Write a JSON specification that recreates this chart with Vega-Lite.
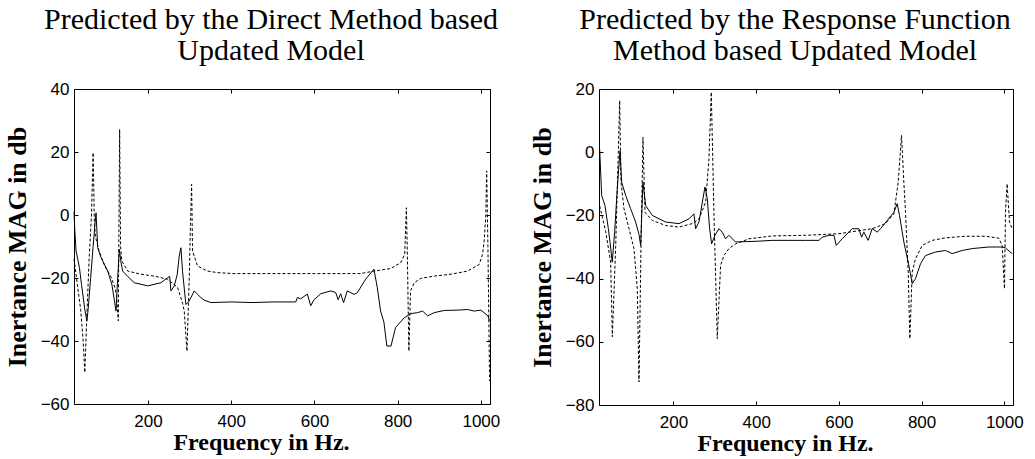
{
  "$schema": "https://vega.github.io/schema/vega-lite/v6.json",
  "padding": {"left": 3, "top": 4, "right": 0, "bottom": 0},
  "background": "white",
  "spacing": 27,
  "config": {
    "view": {"stroke": "black", "strokeWidth": 1},
    "axis": {"domain": false, "grid": false, "ticks": true, "tickColor": "black", "tickSize": -4, "labelFont": "Liberation Sans", "labelFontSize": 17, "labelColor": "black", "titleFont": "Liberation Serif", "titleFontWeight": "bold", "titleColor": "black"},
    "axisX": {"labelPadding": 13, "labelFontSize": 17, "titleFontSize": 24, "titlePadding": 1, "format": "d"},
    "axisY": {"labelPadding": 9, "labelFontSize": 17, "titleFontSize": 26, "titlePadding": 10},
    "title": {"font": "Liberation Serif", "fontSize": 30, "fontWeight": "normal", "color": "black", "lineHeight": 31, "offset": 14, "dx": -11, "frame": "group", "anchor": "middle"}
  },
  "datasets": {
    "left_solid": [
      {"hz": 22, "db": 1}, {"hz": 24, "db": -5}, {"hz": 27, "db": -11.4}, {"hz": 31, "db": -14}, {"hz": 35, "db": -16.7}, {"hz": 40, "db": -22}, {"hz": 48, "db": -30}, {"hz": 53, "db": -33.6}, {"hz": 56, "db": -30}, {"hz": 62, "db": -20}, {"hz": 68, "db": -10}, {"hz": 73, "db": -2}, {"hz": 75, "db": 0.7}, {"hz": 77, "db": -5}, {"hz": 79, "db": -10.4}, {"hz": 87, "db": -13.5}, {"hz": 103, "db": -17.8}, {"hz": 113, "db": -22}, {"hz": 119, "db": -27}, {"hz": 123, "db": -30.5}, {"hz": 127, "db": -20}, {"hz": 131, "db": -10.9}, {"hz": 135, "db": -15}, {"hz": 139, "db": -17.8}, {"hz": 151, "db": -19.5}, {"hz": 167, "db": -21.5}, {"hz": 199, "db": -22.5}, {"hz": 231, "db": -21.5}, {"hz": 247, "db": -19.9}, {"hz": 252, "db": -19.5}, {"hz": 255, "db": -24.1}, {"hz": 263, "db": -22.5}, {"hz": 270, "db": -19}, {"hz": 275, "db": -13}, {"hz": 279, "db": -10.4}, {"hz": 283, "db": -18}, {"hz": 291, "db": -28.4}, {"hz": 299, "db": -27.3}, {"hz": 311, "db": -24.1}, {"hz": 319, "db": -25.2}, {"hz": 327, "db": -26.2}, {"hz": 335, "db": -27}, {"hz": 351, "db": -27.8}, {"hz": 400, "db": -27.6}, {"hz": 450, "db": -27.8}, {"hz": 500, "db": -27.6}, {"hz": 555, "db": -27.6}, {"hz": 559, "db": -26.2}, {"hz": 567, "db": -26.6}, {"hz": 583, "db": -25.1}, {"hz": 591, "db": -28.8}, {"hz": 599, "db": -26.9}, {"hz": 615, "db": -25}, {"hz": 639, "db": -24.1}, {"hz": 651, "db": -24.6}, {"hz": 657, "db": -26.9}, {"hz": 663, "db": -25}, {"hz": 670, "db": -27.8}, {"hz": 679, "db": -24.1}, {"hz": 695, "db": -25.2}, {"hz": 703, "db": -24.7}, {"hz": 723, "db": -20.4}, {"hz": 743, "db": -17.2}, {"hz": 751, "db": -23}, {"hz": 759, "db": -30.5}, {"hz": 767, "db": -34}, {"hz": 774, "db": -41.6}, {"hz": 784, "db": -41.6}, {"hz": 795, "db": -35.7}, {"hz": 816, "db": -32.6}, {"hz": 832, "db": -31.3}, {"hz": 848, "db": -31}, {"hz": 860, "db": -30.5}, {"hz": 872, "db": -32}, {"hz": 888, "db": -31}, {"hz": 912, "db": -30.3}, {"hz": 944, "db": -30.2}, {"hz": 968, "db": -30}, {"hz": 984, "db": -30.5}, {"hz": 1000, "db": -30.2}, {"hz": 1017, "db": -32}, {"hz": 1021, "db": -33.6}
    ],
    "left_dashed": [
      {"hz": 22, "db": -14}, {"hz": 30, "db": -22}, {"hz": 38, "db": -30}, {"hz": 44, "db": -40}, {"hz": 48, "db": -50}, {"hz": 52, "db": -35}, {"hz": 58, "db": -15}, {"hz": 64, "db": 0}, {"hz": 68, "db": 19.8}, {"hz": 71, "db": -3}, {"hz": 74, "db": -7.2}, {"hz": 78, "db": -9}, {"hz": 82, "db": -11.4}, {"hz": 96, "db": -16.2}, {"hz": 112, "db": -19.9}, {"hz": 120, "db": -23}, {"hz": 124, "db": -25.2}, {"hz": 128.5, "db": -33.6}, {"hz": 131.7, "db": 27.2}, {"hz": 134, "db": -10}, {"hz": 137, "db": -14.6}, {"hz": 151, "db": -17.8}, {"hz": 183, "db": -18.8}, {"hz": 215, "db": -19.4}, {"hz": 247, "db": -20.4}, {"hz": 271, "db": -23}, {"hz": 283, "db": -28}, {"hz": 287, "db": -30.5}, {"hz": 293.5, "db": -43.2}, {"hz": 299, "db": -20}, {"hz": 302, "db": -3}, {"hz": 304.7, "db": 9.7}, {"hz": 307, "db": -11.4}, {"hz": 319, "db": -16.2}, {"hz": 343, "db": -17.8}, {"hz": 367, "db": -18.3}, {"hz": 407, "db": -18.6}, {"hz": 500, "db": -18.6}, {"hz": 600, "db": -18.6}, {"hz": 711, "db": -18.6}, {"hz": 743, "db": -17.8}, {"hz": 783, "db": -17}, {"hz": 807, "db": -15.2}, {"hz": 817, "db": -12.5}, {"hz": 821, "db": 2.3}, {"hz": 823, "db": -10}, {"hz": 827, "db": -43.2}, {"hz": 831, "db": -24.1}, {"hz": 840, "db": -21.5}, {"hz": 856, "db": -20.1}, {"hz": 888, "db": -19.4}, {"hz": 928, "db": -18.8}, {"hz": 968, "db": -17.8}, {"hz": 996, "db": -15.7}, {"hz": 1004, "db": -12.5}, {"hz": 1008, "db": -8.3}, {"hz": 1012, "db": 0.2}, {"hz": 1014, "db": 14}, {"hz": 1017, "db": -10}, {"hz": 1021, "db": -52.7}
    ],
    "right_solid": [
      {"hz": 21.6, "db": 1}, {"hz": 26.4, "db": -13.7}, {"hz": 34.5, "db": -16.9}, {"hz": 42.6, "db": -24.2}, {"hz": 48, "db": -30}, {"hz": 52, "db": -34.8}, {"hz": 58, "db": -25}, {"hz": 64, "db": -12}, {"hz": 70.8, "db": 0.5}, {"hz": 74.8, "db": -9.5}, {"hz": 84.5, "db": -13.7}, {"hz": 96.5, "db": -17.9}, {"hz": 108.6, "db": -22.1}, {"hz": 116.7, "db": -26}, {"hz": 120.7, "db": -29.5}, {"hz": 126.3, "db": -9.5}, {"hz": 132.8, "db": -16.9}, {"hz": 148.9, "db": -20}, {"hz": 181.1, "db": -22.1}, {"hz": 213.4, "db": -22.6}, {"hz": 237.5, "db": -21.1}, {"hz": 249.6, "db": -19.5}, {"hz": 253.6, "db": -24.2}, {"hz": 261.7, "db": -22.1}, {"hz": 276.2, "db": -11}, {"hz": 281.8, "db": -14.7}, {"hz": 287.5, "db": -24.2}, {"hz": 292.3, "db": -29}, {"hz": 300.4, "db": -26.3}, {"hz": 310, "db": -24.2}, {"hz": 318, "db": -25.3}, {"hz": 326, "db": -27.4}, {"hz": 334, "db": -26.3}, {"hz": 350, "db": -28.4}, {"hz": 400, "db": -28.2}, {"hz": 439, "db": -27.9}, {"hz": 519.5, "db": -27.9}, {"hz": 551.7, "db": -27.9}, {"hz": 559.7, "db": -26.9}, {"hz": 575.9, "db": -26.3}, {"hz": 588, "db": -26.3}, {"hz": 593.6, "db": -29.5}, {"hz": 608.1, "db": -27.4}, {"hz": 632.2, "db": -24.2}, {"hz": 648.4, "db": -24.2}, {"hz": 654.8, "db": -26.9}, {"hz": 660.4, "db": -25.3}, {"hz": 670.9, "db": -27.9}, {"hz": 680.6, "db": -24.2}, {"hz": 692.7, "db": -25.3}, {"hz": 700.7, "db": -24.2}, {"hz": 716.8, "db": -21.6}, {"hz": 733, "db": -19}, {"hz": 741, "db": -16.3}, {"hz": 746.6, "db": -20}, {"hz": 757.1, "db": -28.4}, {"hz": 769.2, "db": -35.8}, {"hz": 777.3, "db": -41.6}, {"hz": 785.3, "db": -40}, {"hz": 797.4, "db": -35.3}, {"hz": 809.5, "db": -32.7}, {"hz": 833.6, "db": -31.6}, {"hz": 857.8, "db": -31.1}, {"hz": 873.9, "db": -32.1}, {"hz": 898.1, "db": -31.1}, {"hz": 922.3, "db": -30.5}, {"hz": 962.5, "db": -30}, {"hz": 994.8, "db": -30}, {"hz": 1002.8, "db": -30.3}, {"hz": 1019, "db": -32.1}
    ],
    "right_dashed": [
      {"hz": 21.6, "db": -17}, {"hz": 36.1, "db": -25}, {"hz": 48.2, "db": -34.8}, {"hz": 52.2, "db": -58.4}, {"hz": 60.3, "db": -30}, {"hz": 66.7, "db": 0}, {"hz": 70, "db": 16.3}, {"hz": 73.2, "db": -9.5}, {"hz": 80.4, "db": -17.9}, {"hz": 92.5, "db": -24.2}, {"hz": 104.6, "db": -30.5}, {"hz": 112.6, "db": -43.2}, {"hz": 116.7, "db": -72.7}, {"hz": 121.5, "db": -30}, {"hz": 126.3, "db": 4.7}, {"hz": 131.2, "db": -19}, {"hz": 148.9, "db": -21.6}, {"hz": 181.1, "db": -23.2}, {"hz": 213.4, "db": -23.7}, {"hz": 245.6, "db": -22.6}, {"hz": 261.7, "db": -21.1}, {"hz": 277.8, "db": -15.8}, {"hz": 285.9, "db": -2}, {"hz": 291.5, "db": 19}, {"hz": 298, "db": -20}, {"hz": 306, "db": -59}, {"hz": 314, "db": -35.8}, {"hz": 322.1, "db": -32.7}, {"hz": 334.2, "db": -30.5}, {"hz": 350.3, "db": -29}, {"hz": 382.5, "db": -27.4}, {"hz": 439, "db": -26.5}, {"hz": 519.5, "db": -26.3}, {"hz": 600, "db": -25.8}, {"hz": 680.6, "db": -24.2}, {"hz": 712.8, "db": -22.6}, {"hz": 733, "db": -19.5}, {"hz": 743.4, "db": -9.5}, {"hz": 751.5, "db": 5.3}, {"hz": 757.1, "db": -9.5}, {"hz": 761.1, "db": -19}, {"hz": 767.6, "db": -37.9}, {"hz": 771.6, "db": -59}, {"hz": 777.3, "db": -37.9}, {"hz": 785.3, "db": -33.7}, {"hz": 801.4, "db": -29.5}, {"hz": 825.6, "db": -27.9}, {"hz": 857.8, "db": -27.1}, {"hz": 906.1, "db": -26.6}, {"hz": 954.5, "db": -26.6}, {"hz": 986.7, "db": -27.2}, {"hz": 994.8, "db": -29.5}, {"hz": 1000.4, "db": -43.2}, {"hz": 1002.8, "db": -19}, {"hz": 1006.8, "db": -10}, {"hz": 1012.5, "db": -22.1}, {"hz": 1019, "db": -24.2}
    ]
  },
  "hconcat": [
    {
      "title": {"text": ["Predicted by the Direct Method based", "Updated Model"]},
      "width": 416,
      "height": 315,
      "resolve": {"axis": {"x": "independent", "y": "independent"}},
      "layer": [
        {
          "data": {"name": "left_solid"},
          "mark": {"type": "line", "color": "black", "strokeWidth": 1},
          "encoding": {
            "x": {"field": "hz", "type": "quantitative", "scale": {"domain": [22, 1022], "nice": false, "zero": false}, "axis": {"values": [200, 400, 600, 800, 1000], "format": "d", "labelFontSize": 17, "title": "Frequency in Hz.", "titleX": 187, "titleAlign": "center"}},
            "y": {"field": "db", "type": "quantitative", "scale": {"domain": [-60, 40], "nice": false, "zero": false}, "axis": {"values": [-60, -40, -20, 0, 20, 40], "labelFontSize": 17, "title": "Inertance MAG in db"}}
          }
        },
        {
          "data": {"name": "left_dashed"},
          "mark": {"type": "line", "color": "black", "strokeWidth": 1, "strokeDash": [3, 2]},
          "encoding": {
            "x": {"field": "hz", "type": "quantitative", "axis": {"orient": "top", "values": [200, 400, 600, 800, 1000], "labels": false, "title": null}},
            "y": {"field": "db", "type": "quantitative", "axis": {"orient": "right", "values": [-60, -40, -20, 0, 20, 40], "labels": false, "title": null}}
          }
        }
      ]
    },
    {
      "title": {"text": ["Predicted by the Response Function", "Method based Updated Model"]},
      "width": 414,
      "height": 316,
      "resolve": {"axis": {"x": "independent", "y": "independent"}},
      "layer": [
        {
          "data": {"name": "right_solid"},
          "mark": {"type": "line", "color": "black", "strokeWidth": 1},
          "encoding": {
            "x": {"field": "hz", "type": "quantitative", "scale": {"domain": [20, 1021], "nice": false, "zero": false}, "axis": {"values": [200, 400, 600, 800, 1000], "format": "d", "labelFontSize": 17, "title": "Frequency in Hz.", "titleX": 186, "titleAlign": "center"}},
            "y": {"field": "db", "type": "quantitative", "scale": {"domain": [-80, 20], "nice": false, "zero": false}, "axis": {"values": [-80, -60, -40, -20, 0, 20], "labelFontSize": 17, "title": "Inertance MAG in db"}}
          }
        },
        {
          "data": {"name": "right_dashed"},
          "mark": {"type": "line", "color": "black", "strokeWidth": 1, "strokeDash": [3, 2]},
          "encoding": {
            "x": {"field": "hz", "type": "quantitative", "axis": {"orient": "top", "values": [200, 400, 600, 800, 1000], "labels": false, "title": null}},
            "y": {"field": "db", "type": "quantitative", "axis": {"orient": "right", "values": [-80, -60, -40, -20, 0, 20], "labels": false, "title": null}}
          }
        }
      ]
    }
  ]
}
